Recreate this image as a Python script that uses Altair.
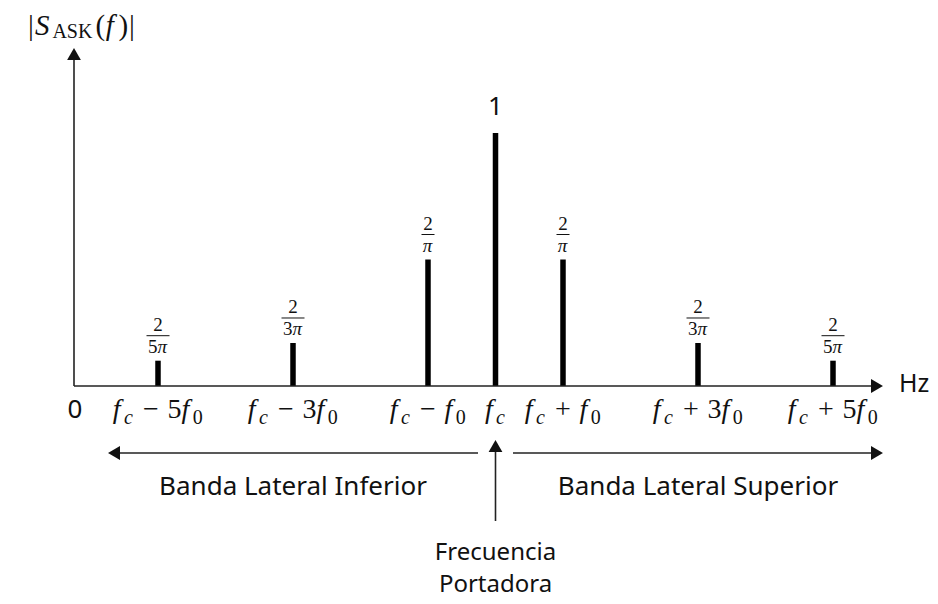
import altair as alt
import pandas as pd

# ---------------- data ----------------
harmonics = [-5, -3, -1, 0, 1, 3, 5]                 # multiples of f0 around fc
amplitudes = [0.10, 0.17, 0.50, 1.00, 0.50, 0.17, 0.10]  # drawn stem heights
amp_numerators = ["2", "2", "2", "1", "2", "2", "2"]
amp_denominators = ["5π", "3π", "π", "", "π", "3π", "5π"]
tick_labels = ["f_c − 5f_0", "f_c − 3f_0", "f_c − f_0", "f_c",
               "f_c + f_0", "f_c + 3f_0", "f_c + 5f_0"]
band_labels = ["Banda Lateral Inferior", "Banda Lateral Superior"]
band_centers = [-3, 3]
carrier_lines = ["Frecuencia", "Portadora"]
origin_label = "0"
unit_label = "Hz"
y_title = "|S_ASK(f)|"

# ---------------- layout ----------------
W, H = 922, 594
X0_PX, UNIT_PX = 487.5, 67.5     # carrier position, pixels per f0
Y0_PX, VUNIT_PX = 378, 253       # baseline, pixels per unit amplitude


def xd(px):
    return (px - X0_PX) / UNIT_PX


def yd(py):
    return (Y0_PX - py) / VUNIT_PX


XS = alt.Scale(domain=[xd(0), xd(W)], nice=False, zero=False)
YS = alt.Scale(domain=[yd(H), yd(0)], nice=False, zero=False)

SERIF = "Liberation Serif"
SANS = "Noto Sans"
INK = "#111111"
M, S = 28, 20  # math main / subscript sizes
FS = 19        # fraction size
SANS_SIZE = 26


def X(f="x"):
    return alt.X(f"{f}:Q", scale=XS, axis=None)


def Y(f="y"):
    return alt.Y(f"{f}:Q", scale=YS, axis=None)


layers = []

# stems
stems = pd.DataFrame({"x": harmonics, "y": [0] * len(harmonics), "y2": amplitudes})
layers.append(alt.Chart(stems).mark_rule(strokeWidth=5.5, color="black", strokeCap="butt")
              .encode(x=X(), y=Y(), y2="y2:Q"))

# axes
Y_AXIS_X = xd(66)
Y_TIP = yd(40)
X_TIP = xd(875)
yaxis = pd.DataFrame({"x": [Y_AXIS_X], "y": [0], "y2": [Y_TIP]})
layers.append(alt.Chart(yaxis).mark_rule(strokeWidth=1.6, color="#222", y2Offset=8)
              .encode(x=X(), y=Y(), y2="y2:Q"))
xaxis = pd.DataFrame({"x": [Y_AXIS_X], "x2": [X_TIP], "y": [0]})
layers.append(alt.Chart(xaxis).mark_rule(strokeWidth=1.6, color="#222", x2Offset=-8)
              .encode(x=X(), x2="x2:Q", y=Y()))

# band arrows
BAND_Y = yd(445)
OUT, INN = xd(875), xd(505)
bands = pd.DataFrame({"x": [-INN, INN], "x2": [-OUT, OUT], "y": [BAND_Y, BAND_Y]})
layers.append(alt.Chart(bands.iloc[[0]]).mark_rule(strokeWidth=1.6, color="#222", x2Offset=8)
              .encode(x=X(), x2="x2:Q", y=Y()))
layers.append(alt.Chart(bands.iloc[[1]]).mark_rule(strokeWidth=1.6, color="#222", x2Offset=-8)
              .encode(x=X(), x2="x2:Q", y=Y()))

# carrier arrow
CAR_TIP, CAR_BOT = yd(432), yd(513)
carrier = pd.DataFrame({"x": [0], "y": [CAR_BOT], "y2": [CAR_TIP]})
layers.append(alt.Chart(carrier).mark_rule(strokeWidth=1.6, color="#222", y2Offset=8)
              .encode(x=X(), y=Y(), y2="y2:Q"))

# arrow heads
HS = 190
heads = [
    ("triangle-up", Y_AXIS_X, Y_TIP, 0, 6),
    ("triangle-right", X_TIP, 0, -6, 0),
    ("triangle-left", -OUT, BAND_Y, 6, 0),
    ("triangle-right", OUT, BAND_Y, -6, 0),
    ("triangle-up", 0, CAR_TIP, 0, 6),
]
for shape, hx, hy, ox, oy in heads:
    layers.append(alt.Chart(pd.DataFrame({"x": [hx], "y": [hy]}))
                  .mark_point(shape=shape, filled=True, size=HS, color="#111", opacity=1,
                              xOffset=ox, yOffset=oy)
                  .encode(x=X(), y=Y()))

# amplitude fractions
frac = pd.DataFrame({"x": harmonics, "y": amplitudes,
                     "num": amp_numerators, "den": amp_denominators})
fr = frac[frac["den"] != ""].copy()
fr["bw"] = fr["den"].str.len() * 10 + 3
fr["xa"] = fr["x"] - fr["bw"] / 2 / UNIT_PX
fr["xb"] = fr["x"] + fr["bw"] / 2 / UNIT_PX
layers.append(alt.Chart(fr).mark_text(font=SERIF, fontSize=FS, dy=-36, baseline="middle", color=INK)
              .encode(x=X(), y=Y(), text="num:N"))
layers.append(alt.Chart(fr).mark_rule(strokeWidth=1, color=INK, yOffset=-25)
              .encode(x=X("xa"), x2="xb:Q", y=Y()))
# denominators: digit upright, pi italic
drows = []
for _, r in fr.iterrows():
    d = r["den"]
    digit, pi = d[:-1], d[-1]
    wd = 0.5 * FS * len(digit)
    wp = 0.55 * FS
    start = -(wd + wp) / 2
    if digit:
        drows.append({"x": r["x"] + start / UNIT_PX, "y": r["y"], "t": digit, "k": "u"})
    drows.append({"x": r["x"] + (start + wd) / UNIT_PX, "y": r["y"], "t": pi, "k": "i"})
dd = pd.DataFrame(drows)
layers.append(alt.Chart(dd[dd["k"] == "u"]).mark_text(
    font=SERIF, fontSize=FS, dy=-8, baseline="alphabetic", align="left", color=INK)
    .encode(x=X(), y=Y(), text="t:N"))
layers.append(alt.Chart(dd[dd["k"] == "i"]).mark_text(
    font=SERIF, fontSize=FS, fontStyle="italic", dy=-8, baseline="alphabetic", align="left", color=INK)
    .encode(x=X(), y=Y(), text="t:N"))

one = frac[frac["den"] == ""]
layers.append(alt.Chart(one).mark_text(font=SANS, fontSize=SANS_SIZE, dy=-26, baseline="middle", color=INK)
              .encode(x=X(), y=Y(), text="num:N"))


# math tick labels built from pieces
def parse(label):
    pieces, i = [], 0
    while i < len(label):
        ch = label[i]
        if ch == "f" and i + 1 < len(label) and label[i + 1] == "_":
            pieces.append(("f", "mi"))
            sub = label[i + 2]
            pieces.append((sub, "si" if sub.isalpha() else "su"))
            i += 3
        elif ch in "−+":
            pieces.append((ch, "op"))
            i += 1
        elif ch.isdigit():
            pieces.append((ch, "mu"))
            i += 1
        else:
            i += 1
    return pieces


WID = {"mi": 0.40 * M, "si": 0.50 * S, "su": 0.52 * S, "mu": 0.50 * M, "op": 1.20 * M}
rows = []
for k, lab in zip(harmonics, tick_labels):
    ps = parse(lab)
    total = sum(WID[kd] for _, kd in ps)
    cur = -total / 2
    for t, kd in ps:
        px = cur + (WID[kd] / 2 if kd == "op" else 0)
        rows.append({"x": k + px / UNIT_PX, "y": 0, "t": t, "kind": kd})
        cur += WID[kd]
tl = pd.DataFrame(rows)

styles = {
    "mi": dict(fontSize=M, fontStyle="italic", dy=32, align="left"),
    "mu": dict(fontSize=M, dy=32, align="left"),
    "op": dict(fontSize=M, dy=32, align="center"),
    "si": dict(fontSize=S, fontStyle="italic", dy=38, align="left"),
    "su": dict(fontSize=S, dy=38, align="left"),
}
for kd, st in styles.items():
    sub = tl[tl["kind"] == kd]
    layers.append(alt.Chart(sub).mark_text(font=SERIF, baseline="alphabetic", color=INK, **st)
                  .encode(x=X(), y=Y(), text="t:N"))

# y title |S_ASK(f)|
TM = 29
tpieces = [("|", "u", 0.24), ("S", "i", 0.60), ("ASK", "s", 0), ("(", "u", 0.36),
           ("f", "i", 0.44), (")", "u", 0.36), ("|", "u", 0.24)]
tw = [43.0 if kd == "s" else w * TM for _, kd, w in tpieces]
cur = 74 - sum(tw) / 2
TB = yd(27)
trows = []
for (t, kd, w), wpx in zip(tpieces, tw):
    trows.append({"x": xd(cur), "y": TB, "t": t, "kind": kd})
    cur += wpx
tt = pd.DataFrame(trows)
tstyles = {
    "u": dict(fontSize=TM),
    "i": dict(fontSize=TM, fontStyle="italic"),
    "s": dict(fontSize=20, dy=3),
}
for kd, st in tstyles.items():
    sub = tt[tt["kind"] == kd]
    layers.append(alt.Chart(sub).mark_text(font=SERIF, baseline="alphabetic", align="left",
                                           color=INK, **st)
                  .encode(x=X(), y=Y(), text="t:N"))

# sans texts
sans = pd.DataFrame([
    {"x": xd(67), "y": yd(402), "t": origin_label, "align": "center", "size": SANS_SIZE},
    {"x": xd(891), "y": yd(376), "t": unit_label, "align": "left", "size": 25},
])
for al in ["center", "left"]:
    sub = sans[sans["align"] == al]
    layers.append(alt.Chart(sub).mark_text(
        font=SANS, fontSize=int(sub["size"].iloc[0]), baseline="middle", align=al, color=INK)
        .encode(x=X(), y=Y(), text="t:N"))

band_df = pd.DataFrame({"x": band_centers, "y": [yd(479)] * 2, "t": band_labels})
layers.append(alt.Chart(band_df).mark_text(font=SANS, fontSize=SANS_SIZE, baseline="middle", color=INK)
              .encode(x=X(), y=Y(), text="t:N"))
car_df = pd.DataFrame({"x": [0, 0], "y": [yd(545), yd(577)], "t": carrier_lines})
layers.append(alt.Chart(car_df).mark_text(font=SANS, fontSize=24, baseline="middle", color=INK)
              .encode(x=X(), y=Y(), text="t:N"))

chart = (alt.layer(*layers)
         .properties(width=W, height=H, padding=0, autosize="none", background="white")
         .configure_view(stroke=None))

chart.save("out.html", embed_options={"renderer": "svg", "actions": False})
